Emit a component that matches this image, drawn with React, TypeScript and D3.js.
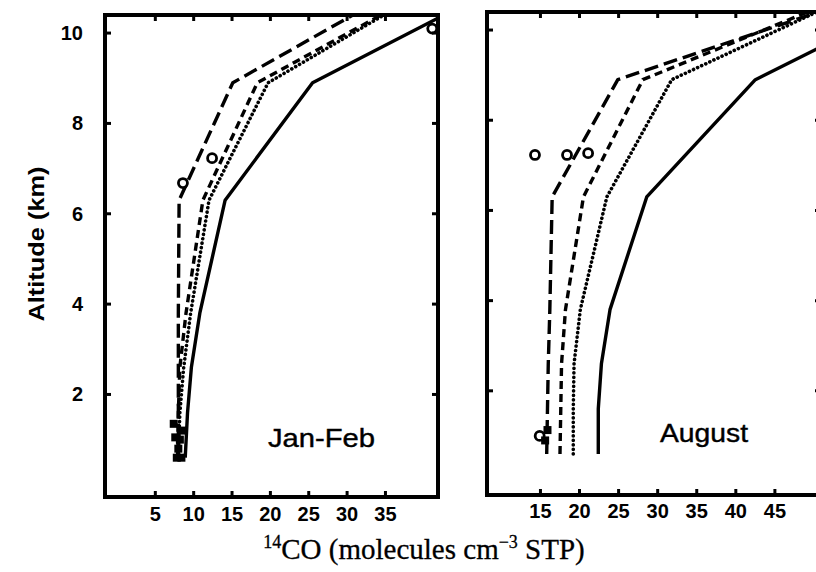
import React from "react";
import * as d3 from "d3";

// altitude levels (km) shared by the model profiles
const altitudes = [0.6, 1.6, 2.6, 3.8, 6.3, 8.9, 10.5];

// Jan-Feb profiles, 14CO
const janLongDash = [8.0, 8.0, 8.0, 8.0, 8.1, 15.1, 31.8];
const janShortDash = [7.9, 8.0, 8.2, 9.0, 11.2, 18.3, 35.5];
const janDotted = [8.0, 8.2, 8.7, 9.6, 12.0, 19.7, 35.8];
const janSolid = [8.9, 9.2, 9.7, 10.8, 14.1, 25.5, 43.8];

// August profiles
const augLongDash = [15.8, 15.9, 16.0, 16.2, 16.5, 24.9, 52.3];
const augShortDash = [17.5, 17.6, 17.7, 18.2, 20.5, 28.1, 50.6];
const augDotted = [19.2, 19.2, 19.3, 20.1, 23.5, 31.8, 51.6];
const augSolid = [22.4, 22.4, 22.8, 23.9, 28.6, 42.5, 61.0];

// observations: [value, altitude]
const janCircles = [[8.6, 6.68], [12.4, 7.23], [41.1, 10.1]];
const janSquares = [[7.4, 1.35], [7.6, 1.05], [8.0, 0.8], [8.4, 0.6], [8.6, 1.2], [7.8, 0.6], [8.2, 1.0]];
const augCircles = [[14.3, 7.23], [18.4, 7.23], [21.1, 7.27], [14.9, 1.0]];
const augSquares = [[15.9, 1.13], [15.6, 0.9]];

const janTicks = [5, 10, 15, 20, 25, 30, 35];
const augTicks = [15, 20, 25, 30, 35, 40, 45];
const altTicks = [2, 4, 6, 8, 10];

const styles = [
  { key: "long", dash: "14 6", width: 3.4, cap: "butt" },
  { key: "short", dash: "8 5", width: 3.4, cap: "butt" },
  { key: "dot", dash: "0.1 4.4", width: 3.6, cap: "round" },
  { key: "solid", dash: null, width: 3.4, cap: "butt" },
];

const SANS = "'Liberation Sans', Arial, sans-serif";

interface PanelProps {
  id: string;
  left: number;
  right: number;
  top: number;
  bottom: number;
  xDomain: [number, number];
  yDomain: [number, number];
  series: number[][];
  circles: number[][];
  squares: number[][];
  ticks: number[];
  label: string;
  labelX: number;
  labelY: number;
  labelLen: number;
  tickLabelY: number;
}

const Panel = (p: PanelProps) => {
  const x = d3.scaleLinear().domain(p.xDomain).range([p.left, p.right]);
  const y = d3.scaleLinear().domain(p.yDomain).range([p.bottom, p.top]);
  const line = d3
    .line<number>()
    .x((d) => x(d))
    .y((_, i) => y(altitudes[i]));
  const tl = 6;

  return (
    <g>
      <defs>
        <clipPath id={p.id}>
          <rect x={p.left} y={p.top} width={p.right - p.left} height={p.bottom - p.top} />
        </clipPath>
      </defs>
      <g clipPath={`url(#${p.id})`}>
        {p.series.map((s, i) => (
          <path
            key={styles[i].key}
            d={line(s) || ""}
            fill="none"
            stroke="#000"
            strokeWidth={styles[i].width}
            strokeDasharray={styles[i].dash || undefined}
            strokeLinecap={styles[i].cap as any}
            strokeLinejoin="round"
          />
        ))}
        {p.circles.map((c, i) => (
          <circle key={i} cx={x(c[0])} cy={y(c[1])} r={4.5} fill="#fff" stroke="#000" strokeWidth={2.8} />
        ))}
        {p.squares.map((c, i) => (
          <rect key={i} x={x(c[0]) - 4} y={y(c[1]) - 4} width={8} height={8} fill="#000" />
        ))}
      </g>
      {/* frame */}
      <rect
        x={p.left}
        y={p.top}
        width={p.right - p.left}
        height={p.bottom - p.top}
        fill="none"
        stroke="#000"
        strokeWidth={4}
      />
      {p.ticks.map((t) => (
        <g key={"x" + t}>
          <line x1={x(t)} x2={x(t)} y1={p.bottom} y2={p.bottom - tl} stroke="#000" strokeWidth={3} />
          <line x1={x(t)} x2={x(t)} y1={p.top} y2={p.top + tl} stroke="#000" strokeWidth={3} />
          <text
            x={x(t)}
            y={p.tickLabelY}
            textAnchor="middle"
            fontFamily={SANS}
            fontWeight="bold"
            fontSize={20}
          >
            {t}
          </text>
        </g>
      ))}
      {altTicks.map((t) => (
        <g key={"y" + t}>
          <line x1={p.left} x2={p.left + tl} y1={y(t)} y2={y(t)} stroke="#000" strokeWidth={3} />
          <line x1={p.right} x2={p.right - tl} y1={y(t)} y2={y(t)} stroke="#000" strokeWidth={3} />
        </g>
      ))}
      <text
        x={p.labelX}
        y={p.labelY}
        fontFamily={SANS}
        fontSize={25}
        stroke="#000"
        strokeWidth={0.4}
        textLength={p.labelLen}
        lengthAdjust="spacingAndGlyphs"
      >
        {p.label}
      </text>
    </g>
  );
};

const App = () => {
  const yLeft = d3.scaleLinear().domain([-0.27, 10.4]).range([497, 15]);
  return (
    <svg width={816} height={572} style={{ position: "absolute", left: 0, top: 0, background: "#fff" }}>
      <rect width={816} height={572} fill="#fff" />
      <Panel
        id="clipJan"
        left={105}
        right={438}
        top={15}
        bottom={497}
        xDomain={[-1.56, 41.85]}
        yDomain={[-0.27, 10.4]}
        series={[janLongDash, janShortDash, janDotted, janSolid]}
        circles={janCircles}
        squares={janSquares}
        ticks={janTicks}
        label="Jan-Feb"
        labelX={268}
        labelY={447}
        labelLen={107}
        tickLabelY={521}
      />
      <Panel
        id="clipAug"
        left={487}
        right={821}
        top={12}
        bottom={495}
        xDomain={[8.16, 50.9]}
        yDomain={[-0.31, 10.4]}
        series={[augLongDash, augShortDash, augDotted, augSolid]}
        circles={augCircles}
        squares={augSquares}
        ticks={augTicks}
        label="August"
        labelX={660}
        labelY={442}
        labelLen={88}
        tickLabelY={518}
      />
      {altTicks.map((t) => (
        <text
          key={t}
          x={83}
          y={yLeft(t) + 7}
          textAnchor="end"
          fontFamily={SANS}
          fontWeight="bold"
          fontSize={20}
        >
          {t}
        </text>
      ))}
      <text
        transform="translate(44,244) rotate(-90)"
        textAnchor="middle"
        fontFamily={SANS}
        fontWeight="bold"
        fontSize={22}
        textLength={155}
        lengthAdjust="spacingAndGlyphs"
      >
        Altitude (km)
      </text>
      <text
        x={424}
        y={559}
        textAnchor="middle"
        fontFamily="'Liberation Serif', 'Times New Roman', serif"
        fontSize={29}
        stroke="#000"
        strokeWidth={0.3}
      >
        <tspan fontSize={18} dy={-11}>14</tspan>
        <tspan dy={11}>CO (molecules cm</tspan>
        <tspan fontSize={18} dy={-11}>−3</tspan>
        <tspan dy={11}> STP)</tspan>
      </text>
    </svg>
  );
};

export default App;
